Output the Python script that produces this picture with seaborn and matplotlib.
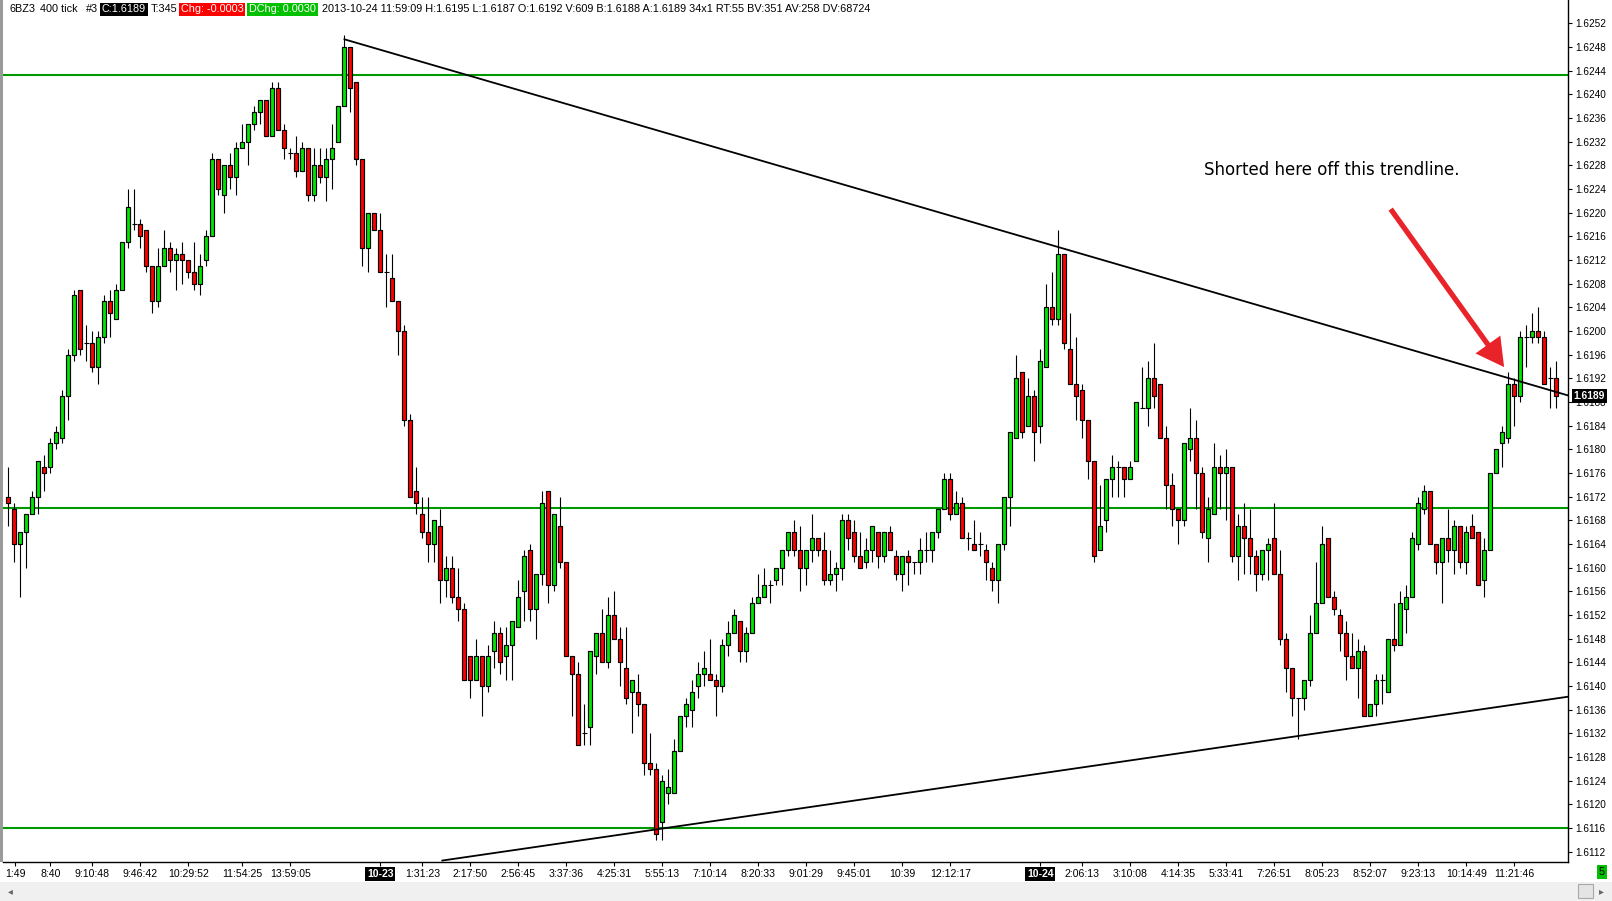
import numpy as np
import pandas as pd
import matplotlib
matplotlib.use("Agg")
import matplotlib.pyplot as plt
import matplotlib.transforms as mtransforms
from matplotlib.patches import Rectangle
from matplotlib.ticker import FormatStrFormatter
import seaborn as sns

# 6BZ3 400 tick bars in pips above 1.6100
base_price = 1.6100
pip = 0.0001

open_pips = [
    72, 70, 64, 66, 69, 72, 77, 77, 81, 82,
    89, 96, 107, 98, 98, 94, 99, 105, 102, 107,
    115, 118, 118, 117, 111, 105, 111, 114, 112, 113,
    112, 110, 108, 112, 116, 129, 123, 128, 126, 131,
    132, 135, 137, 139, 133, 141, 134, 130, 130, 127,
    131, 123, 128, 126, 129, 132, 138, 148, 142, 129,
    114, 120, 117, 110, 109, 105, 100, 85, 73, 69,
    66, 64, 67, 58, 60, 55, 53, 45, 41, 45,
    40, 46, 49, 45, 47, 50, 56, 63, 53, 59,
    73, 57, 67, 61, 45, 42, 32, 33, 45, 49,
    44, 52, 48, 43, 39, 39, 37, 27, 26, 17,
    22, 22, 29, 35, 36, 40, 42, 42, 41, 40,
    47, 49, 51, 46, 49, 54, 55, 57, 58, 60,
    63, 66, 63, 60, 63, 65, 63, 58, 59, 60,
    68, 66, 62, 61, 63, 66, 62, 66, 62, 59,
    62, 61, 61, 63, 63, 66, 70, 75, 69, 71,
    65, 64, 64, 63, 60, 58, 64, 72, 82, 93,
    84, 89, 84, 94, 104, 102, 113, 97, 91, 90,
    85, 78, 63, 68, 75, 77, 77, 75, 78, 87,
    87, 92, 91, 82, 74, 70, 68, 80, 82, 76,
    65, 69, 77, 76, 77, 62, 67, 65, 62, 59,
    63, 65, 59, 48, 43, 38, 38, 41, 49, 54,
    65, 55, 52, 49, 45, 43, 46, 35, 37, 41,
    39, 48, 47, 53, 55, 64, 70, 73, 64, 61,
    65, 63, 67, 61, 67, 66, 58, 63, 76, 81,
    82, 91, 89, 99, 99, 100, 99, 92, 92,
]
high_pips = [
    77, 71, 66, 69, 73, 78, 79, 82, 84, 90,
    97, 107, 107, 101, 100, 100, 106, 107, 108, 115,
    124, 124, 119, 117, 111, 114, 117, 115, 114, 115,
    112, 115, 113, 117, 130, 129, 128, 130, 132, 135,
    135, 138, 139, 139, 142, 142, 135, 131, 133, 132,
    131, 131, 131, 131, 135, 138, 150, 148, 142, 129,
    120, 120, 120, 113, 113, 105, 101, 86, 77, 72,
    72, 68, 70, 62, 62, 60, 54, 45, 48, 45,
    47, 51, 50, 50, 51, 58, 63, 64, 59, 73,
    73, 69, 72, 61, 45, 44, 37, 46, 49, 53,
    55, 56, 50, 50, 41, 42, 37, 32, 27, 25,
    26, 31, 35, 38, 41, 44, 46, 48, 42, 48,
    51, 53, 51, 50, 55, 59, 60, 58, 60, 63,
    66, 68, 67, 63, 69, 65, 66, 63, 61, 69,
    69, 68, 66, 65, 67, 66, 66, 67, 63, 62,
    63, 61, 65, 66, 66, 70, 76, 76, 73, 72,
    66, 68, 66, 64, 61, 64, 72, 83, 96, 93,
    92, 90, 97, 108, 110, 117, 113, 103, 99, 91,
    85, 78, 74, 75, 79, 78, 77, 78, 88, 94,
    95, 98, 91, 84, 76, 70, 81, 87, 85, 77,
    72, 81, 79, 80, 77, 69, 71, 70, 63, 63,
    65, 71, 63, 49, 43, 38, 41, 52, 61, 67,
    65, 56, 53, 51, 49, 48, 47, 37, 42, 42,
    48, 54, 56, 57, 66, 72, 74, 73, 64, 65,
    70, 68, 67, 67, 69, 66, 65, 76, 80, 84,
    93, 92, 100, 101, 103, 104, 100, 94, 95,
]
low_pips = [
    67, 61, 55, 60, 69, 69, 73, 76, 80, 81,
    85, 95, 96, 95, 93, 91, 98, 99, 102, 107,
    114, 117, 114, 110, 103, 104, 111, 110, 107, 108,
    109, 107, 106, 111, 116, 123, 120, 124, 123, 131,
    128, 134, 135, 133, 133, 134, 129, 129, 126, 127,
    122, 122, 125, 122, 124, 132, 138, 137, 128, 111,
    110, 117, 110, 104, 105, 96, 84, 72, 69, 65,
    61, 61, 54, 55, 54, 51, 41, 38, 41, 35,
    39, 43, 42, 41, 41, 50, 51, 51, 48, 57,
    54, 56, 60, 45, 35, 30, 30, 30, 42, 44,
    43, 48, 40, 37, 32, 35, 25, 25, 14, 14,
    20, 22, 29, 33, 33, 38, 40, 41, 35, 39,
    45, 49, 44, 44, 49, 54, 55, 54, 57, 57,
    62, 62, 56, 57, 61, 62, 57, 57, 56, 58,
    63, 61, 60, 60, 61, 60, 61, 63, 58, 56,
    57, 59, 59, 61, 61, 65, 70, 68, 69, 65,
    63, 63, 62, 58, 56, 54, 63, 67, 82, 82,
    84, 78, 81, 94, 101, 101, 97, 91, 85, 82,
    75, 61, 63, 66, 72, 72, 72, 75, 78, 87,
    84, 87, 82, 70, 67, 64, 67, 78, 70, 65,
    61, 69, 70, 68, 61, 58, 59, 59, 56, 58,
    58, 59, 47, 39, 35, 31, 36, 40, 49, 54,
    55, 52, 46, 41, 43, 38, 35, 35, 35, 37,
    39, 46, 47, 49, 55, 63, 69, 64, 59, 54,
    61, 59, 60, 59, 65, 57, 55, 63, 76, 77,
    81, 84, 88, 94, 98, 98, 91, 87, 87,
]
close_pips = [
    71, 64, 66, 69, 72, 78, 76, 81, 83, 89,
    96, 106, 97, 98, 94, 99, 105, 103, 107, 115,
    121, 118, 116, 111, 105, 111, 114, 112, 113, 112,
    110, 108, 111, 116, 129, 124, 128, 126, 131, 132,
    135, 137, 139, 133, 141, 134, 131, 130, 127, 131,
    123, 128, 126, 129, 131, 138, 148, 141, 129, 114,
    120, 117, 110, 110, 105, 100, 85, 72, 71, 66,
    64, 68, 58, 60, 55, 53, 41, 41, 45, 40,
    45, 49, 44, 47, 51, 55, 62, 53, 59, 71,
    57, 69, 61, 45, 42, 30, 32, 46, 49, 44,
    52, 48, 44, 38, 41, 37, 27, 26, 15, 24,
    23, 29, 35, 37, 39, 42, 43, 41, 40, 47,
    49, 52, 46, 49, 54, 55, 57, 57, 60, 63,
    66, 63, 60, 63, 65, 63, 58, 59, 60, 68,
    65, 62, 60, 63, 67, 62, 66, 63, 59, 62,
    61, 61, 63, 63, 66, 70, 75, 69, 71, 65,
    65, 63, 64, 61, 58, 64, 72, 83, 92, 83,
    89, 83, 95, 104, 102, 113, 98, 91, 89, 85,
    78, 62, 67, 75, 77, 77, 75, 77, 88, 87,
    92, 89, 82, 74, 70, 68, 81, 82, 76, 66,
    70, 77, 76, 77, 62, 67, 65, 62, 59, 63,
    64, 59, 48, 43, 38, 38, 41, 49, 54, 64,
    55, 53, 49, 45, 43, 46, 35, 37, 41, 41,
    48, 47, 54, 55, 65, 71, 73, 64, 61, 65,
    63, 67, 61, 66, 65, 57, 63, 76, 80, 83,
    91, 89, 99, 99, 100, 99, 91, 92, 89,
]

tick_pos = [1.2, 7, 14, 22, 30, 39, 47, 62, 69, 77, 85, 93, 101, 109, 117, 125,
            133, 141, 149, 157, 172, 179, 187, 195, 203, 211, 219, 227, 235, 243, 251]
tick_labels = ['1:49', '8:40', '9:10:48', '9:46:42', '10:29:52', '11:54:25', '13:59:05',
               '10-23', '1:31:23', '2:17:50', '2:56:45', '3:37:36', '4:25:31', '5:55:13',
               '7:10:14', '8:20:33', '9:01:29', '9:45:01', '10:39', '12:12:17', '10-24',
               '2:06:13', '3:10:08', '4:14:35', '5:33:41', '7:26:51', '8:05:23', '8:52:07',
               '9:23:13', '10:14:49', '11:21:46']
date_labels = ['10-23', '10-24']

levels = [1.62433, 1.61701, 1.61160]
upper_trend_x = [56, 260]
upper_trend_y = [1.62493, 1.61891]
lower_trend_x = [72.3, 260]
lower_trend_y = [1.61105, 1.61382]
last_price = 1.6189

header = [('6BZ3', 10, None, 'black'), ('400 tick', 40, None, 'black'), ('#3', 86, None, 'black'),
          ('C:1.6189', 102, 'black', 'white'), ('T:345', 151, None, 'black'),
          ('Chg: -0.0003', 181, '#ff0000', 'white'), ('DChg: 0.0030', 249, '#00c000', 'white'),
          ('2013-10-24 11:59:09 H:1.6195 L:1.6187 O:1.6192 V:609 B:1.6188 A:1.6189 34x1 '
           'RT:55 BV:351 AV:258 DV:68724', 322, None, 'black')]

df = pd.DataFrame({
    'open': base_price + np.array(open_pips) * pip,
    'high': base_price + np.array(high_pips) * pip,
    'low': base_price + np.array(low_pips) * pip,
    'close': base_price + np.array(close_pips) * pip,
})
df['bar'] = np.arange(len(df))

sns.set_style('white')
plt.rcParams['font.family'] = ['Liberation Sans', 'DejaVu Sans']

W, H = 1612, 901
fig = plt.figure(figsize=(W / 100, H / 100), dpi=100)
fig.patch.set_facecolor('white')
ax = fig.add_axes([3 / W, 39 / H, 1565 / W, 862 / H])
ax.set_facecolor('white')

# horizontal levels
for lvl in levels:
    ax.axhline(lvl, color='#009a00', lw=1.5, zorder=1)

up = df[df['close'] > df['open']]
down = df[df['close'] < df['open']]
doji = df[df['close'] == df['open']]

ax.vlines(df['bar'], df['low'], df['high'], color='black', lw=0.8, zorder=2)
ax.bar(up['bar'], up['close'] - up['open'], bottom=up['open'], width=0.68,
       color='#00e600', edgecolor='black', linewidth=0.85, zorder=3)
ax.bar(down['bar'], down['open'] - down['close'], bottom=down['close'], width=0.68,
       color='#ff0000', edgecolor='black', linewidth=0.85, zorder=3)
ax.hlines(doji['close'], doji['bar'] - 0.45, doji['bar'] + 0.45, color='black', lw=0.8, zorder=3)

# trendlines
sns.lineplot(x=upper_trend_x, y=upper_trend_y, ax=ax, color='black', lw=1.3, zorder=4)
sns.lineplot(x=lower_trend_x, y=lower_trend_y, ax=ax, color='black', lw=1.3, zorder=4)

ax.text(220.5, 1.62272, 'Shorted here off this trendline.', family='DejaVu Sans',
        fontsize=12, ha='center', va='center', color='black', zorder=5)
ax.annotate('', xy=(249.3, 1.61939), xytext=(230.4, 1.62206),
            arrowprops=dict(facecolor='#e8232a', edgecolor='none', width=3.8,
                            headwidth=22, headlength=20), zorder=5)

ax.set_xlim(-0.88, 259.95)
ax.set_ylim(1.611026, 1.625594)

ax.yaxis.tick_right()
ax.set_yticks(np.round(np.arange(1.6112, 1.62525, 0.0004), 4))
ax.yaxis.set_major_formatter(FormatStrFormatter('%.4f'))
ax.tick_params(axis='y', right=True, left=False, length=3, width=0.8, pad=2.5,
               labelsize=7.2, colors='black', direction='out')
ax.set_xticks(tick_pos)
ax.set_xticklabels(tick_labels)
ax.tick_params(axis='x', bottom=True, length=3, width=0.8, pad=2, labelsize=7.6,
               colors='black', direction='out')
for lbl in ax.get_xticklabels():
    if lbl.get_text() in date_labels:
        lbl.set_color('white')
        lbl.set_fontweight('bold')
        lbl.set_bbox(dict(facecolor='black', edgecolor='none', pad=1.2))

for side in ['left', 'top']:
    ax.spines[side].set_visible(False)
for side in ['right', 'bottom']:
    ax.spines[side].set_visible(True)
    ax.spines[side].set_color('black')
    ax.spines[side].set_linewidth(1.0)
ax.set_xlabel('')
ax.set_ylabel('')

# current price box on the axis
trans = mtransforms.blended_transform_factory(ax.transAxes, ax.transData)
ax.text(1.0035, last_price, '1.6189', transform=trans, ha='left', va='center',
        color='white', fontsize=7.4, fontweight='bold', clip_on=False, zorder=10,
        bbox=dict(facecolor='black', edgecolor='none', pad=1.3))

# left grey border
fig.add_artist(Rectangle((0, 39 / H), 3 / W, 862 / H, transform=fig.transFigure,
                         facecolor='#9a9a9a', edgecolor='none'))

# header line
for txt, x, bg, fg in header:
    kw = {}
    if bg is not None:
        kw['bbox'] = dict(facecolor=bg, edgecolor='none', pad=1.2)
    fig.text(x / W, 1 - 9.5 / H, txt, ha='left', va='center', fontsize=7.8,
             color=fg, **kw)

# scrollbar strip and status box
fig.add_artist(Rectangle((0, 0), 1, 19 / H, transform=fig.transFigure,
                         facecolor='#f0f0f0', edgecolor='none'))
fig.add_artist(Rectangle((1578 / W, 3 / H), 15 / W, 14 / H, transform=fig.transFigure,
                         facecolor='#e4e4e4', edgecolor='#a8a8a8', lw=0.8))
fig.text(10 / W, 10 / H, '\u25c2', fontsize=7, color='#666666', family='DejaVu Sans',
         ha='center', va='center')
fig.text(1601 / W, 10 / H, '\u25b8', fontsize=7, color='#666666', family='DejaVu Sans',
         ha='center', va='center')
fig.text(1602 / W, 1 - 872 / H, '5', fontsize=8, color='black', ha='center', va='center',
         bbox=dict(facecolor='#00c000', edgecolor='none', pad=1.2))

fig.savefig('out.png', dpi=100, facecolor='white')
